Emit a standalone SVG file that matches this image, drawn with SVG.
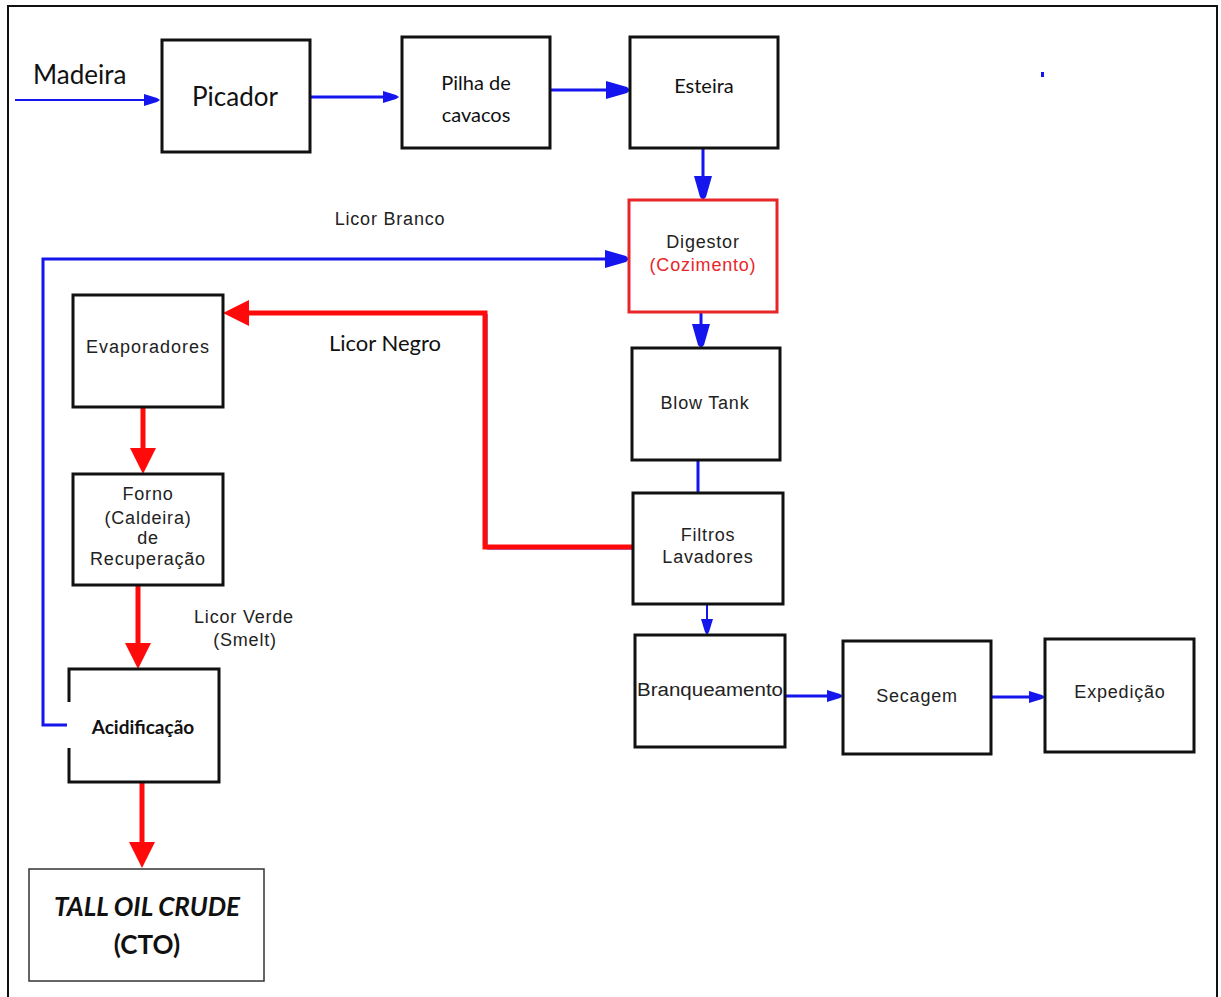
<svg xmlns="http://www.w3.org/2000/svg" width="1221" height="997" viewBox="0 0 1221 997">
<style>
.box{fill:#fff;stroke:#111;stroke-width:3}
.red-box{fill:#fff;stroke:#e8262a;stroke-width:3}
.cto{fill:#fff;stroke:#333;stroke-width:1.5}
.t{font-family:"Liberation Sans",Arial,sans-serif;font-size:18px;fill:#222;text-anchor:middle;letter-spacing:0.8px}
.c{font-family:Lato,"Liberation Sans",sans-serif;fill:#111;text-anchor:middle}
.bl{fill:none;stroke:#1515ee;stroke-width:3}
.bl2{fill:none;stroke:#1515ee;stroke-width:2}
.rd{fill:none;stroke:#ff0a0a;stroke-width:5}
</style>
<defs>
<marker id="ab" viewBox="0 0 24 18" refX="4" refY="9" markerWidth="24" markerHeight="18" markerUnits="userSpaceOnUse" orient="auto"><path d="M0,0 L21,6 L24,9 L21,12 L0,18 z" fill="#1515ee"/></marker>
<marker id="as" viewBox="0 0 16 12" refX="3" refY="6" markerWidth="16" markerHeight="12" markerUnits="userSpaceOnUse" orient="auto"><path d="M0,0 L13,4 L16,6 L13,8 L0,12 z" fill="#1515ee"/></marker>
<marker id="ar" viewBox="0 0 26 26" refX="6" refY="13" markerWidth="26" markerHeight="26" markerUnits="userSpaceOnUse" orient="auto"><path d="M0,0 L26,13 L0,26 z" fill="#ff0a0a"/></marker>
</defs>
<rect x="8" y="6" width="1209" height="1000" fill="#fff" stroke="#111" stroke-width="2"/>

<g id="connectors">
<path class="bl2" d="M15,100 H147" marker-end="url(#as)"/>
<path class="bl" d="M310,97 H386" marker-end="url(#as)"/>
<path class="bl" d="M550,90 H610" marker-end="url(#ab)"/>
<path class="bl" d="M703,148 V180" marker-end="url(#ab)"/>
<path class="bl" d="M69,725 H43 V259 H609" marker-end="url(#ab)"/>
<path class="bl" d="M701,312 V328" marker-end="url(#ab)"/>
<path class="bl" d="M698,460 V493"/>
<path class="bl2" d="M707,604 V622" marker-end="url(#as)"/>
<path class="bl" d="M785,696 H830" marker-end="url(#as)"/>
<path class="bl" d="M991,697 H1032" marker-end="url(#as)"/>
<path d="M487,314 V549 H633" fill="none" stroke="#1515ee" stroke-width="1"/>
<path class="rd" d="M633,547 H485 V313 H243" marker-end="url(#ar)"/>
<path class="rd" d="M143,407 V454" marker-end="url(#ar)"/>
<path class="rd" d="M138,585 V649" marker-end="url(#ar)"/>
<path class="rd" d="M142,782 V848" marker-end="url(#ar)"/>
<rect x="1041" y="72" width="3" height="5" fill="#1515ee"/>
</g>

<text class="c" x="33" y="84" font-size="26" style="text-anchor:start">Madeira</text>
<text class="t" x="390" y="225">Licor Branco</text>
<text class="c" x="385" y="351" font-size="22">Licor Negro</text>
<text class="t" x="244" y="623" font-size="17">Licor Verde</text>
<text class="t" x="245" y="646" font-size="17">(Smelt)</text>

<g id="picador"><rect class="box" x="162" y="40" width="148" height="112"/><text class="c" x="235" y="106" font-size="26">Picador</text></g>
<g id="pilha"><rect class="box" x="402" y="37" width="148" height="111"/><text class="c" x="476" y="90" font-size="20">Pilha de</text><text class="c" x="476" y="122" font-size="20">cavacos</text></g>
<g id="esteira"><rect class="box" x="630" y="37" width="148" height="111"/><text class="c" x="704" y="93" font-size="20">Esteira</text></g>
<g id="digestor"><rect class="red-box" x="629" y="200" width="148" height="112"/><text class="t" x="703" y="248" font-size="17">Digestor</text><text class="t" x="703" y="271" font-size="17" style="fill:#e8262a">(Cozimento)</text></g>
<g id="evaporadores"><rect class="box" x="73" y="295" width="150" height="112"/><text class="t" x="148" y="353" style="letter-spacing:1px">Evaporadores</text></g>
<g id="blowtank"><rect class="box" x="632" y="348" width="148" height="112"/><text class="t" x="705" y="409">Blow Tank</text></g>
<g id="filtros"><rect class="box" x="633" y="493" width="150" height="111"/><text class="t" x="708" y="541">Filtros</text><text class="t" x="708" y="563">Lavadores</text></g>
<g id="forno"><rect class="box" x="73" y="474" width="150" height="111"/><text class="t" x="148" y="500" font-size="17">Forno</text><text class="t" x="148" y="524" font-size="17">(Caldeira)</text><text class="t" x="148" y="544" font-size="17">de</text><text class="t" x="148" y="565" font-size="17">Recuperação</text></g>
<g id="acidificacao"><rect class="box" x="69" y="669" width="150" height="113"/><rect x="67" y="702" width="150" height="46" fill="#fff"/><text class="c" x="143" y="734" font-size="19" font-weight="bold">Acidificação</text></g>
<g id="branqueamento"><rect class="box" x="635" y="635" width="150" height="112"/><text class="t" x="710" y="696" textLength="146" lengthAdjust="spacingAndGlyphs" style="letter-spacing:0">Branqueamento</text></g>
<g id="secagem"><rect class="box" x="843" y="641" width="148" height="113"/><text class="t" x="917" y="702">Secagem</text></g>
<g id="expedicao"><rect class="box" x="1045" y="639" width="149" height="113"/><text class="t" x="1120" y="698">Expedição</text></g>
<g id="cto"><rect class="cto" x="29" y="869" width="235" height="112"/><text class="c" x="147" y="916" font-size="26" font-weight="bold" font-style="italic">TALL OIL CRUDE</text><text class="c" x="147" y="954" font-size="26" font-weight="bold">(CTO)</text></g>
</svg>
